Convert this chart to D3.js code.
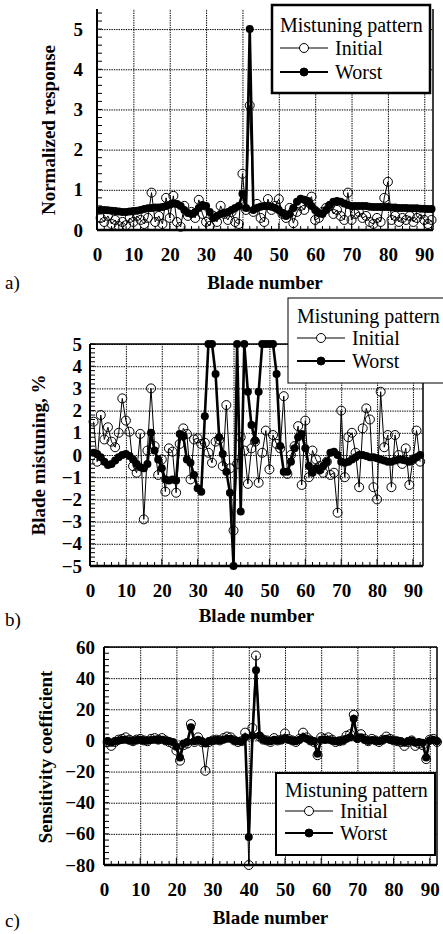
<!DOCTYPE html>
<html>
<head>
<meta charset="utf-8">
<script src="https://cdn.jsdelivr.net/npm/d3@7"></script>
<style>
  body { margin: 0; background: #fff; }
  svg { display: block; }
  text { font-family: "Liberation Serif", "Times New Roman", serif; fill: #000; }
</style>
</head>
<body>
<svg id="chart" width="443" height="934" font-family="'Liberation Serif', serif"></svg>
<script>
// Blade indices around the disk
const blades = d3.range(1, 93);

// a) Normalized forced response per blade
const responseInitial = [
  0.30, 0.20, 0.35, 0.15, 0.25, 0.10, 0.20, 0.12, 0.30, 0.20,
  0.35, 0.25, 0.15, 0.30, 0.93, 0.20, 0.35, 0.15, 0.80, 0.30,
  0.85, 0.20, 0.08, 0.60, 0.35, 0.45, 0.30, 0.75, 0.40, 0.20,
  0.10, 0.35, 0.20, 0.60, 0.40, 0.25, 0.45, 0.20, 0.15, 1.40,
  0.50, 3.10, 0.45, 0.65, 0.30, 0.20, 0.77, 0.50, 0.60, 0.77,
  0.40, 0.30, 0.55, 0.17, 0.45, 0.60, 0.50, 0.70, 0.83, 0.25,
  0.30, 0.45, 0.55, 0.60, 0.40, 0.50, 0.35, 0.25, 0.93, 0.25,
  0.40, 0.45, 0.30, 0.35, 0.20, 0.15, 0.30, 0.20, 0.80, 1.20,
  0.25, 0.35, 0.20, 0.30, 0.25, 0.35, 0.20, 0.30, 0.40, 0.25,
  0.15, 0.25
];
const responseWorst = [
  0.50, 0.50, 0.49, 0.48, 0.47, 0.46, 0.45, 0.45, 0.46, 0.47,
  0.48, 0.50, 0.52, 0.54, 0.55, 0.56, 0.56, 0.57, 0.60, 0.63,
  0.66, 0.65, 0.60, 0.50, 0.42, 0.40, 0.45, 0.55, 0.62, 0.60,
  0.45, 0.30, 0.35, 0.40, 0.42, 0.45, 0.50, 0.55, 0.60, 0.90,
  0.55, 5.00, 0.50, 0.55, 0.58, 0.60, 0.60, 0.58, 0.55, 0.50,
  0.42, 0.35, 0.40, 0.55, 0.70, 0.78, 0.75, 0.70, 0.60, 0.50,
  0.42, 0.40, 0.50, 0.62, 0.70, 0.72, 0.70, 0.66, 0.62, 0.60,
  0.60, 0.60, 0.60, 0.60, 0.58, 0.57, 0.57, 0.57, 0.57, 0.57,
  0.56, 0.56, 0.55, 0.55, 0.55, 0.54, 0.54, 0.54, 0.53, 0.53,
  0.52, 0.52
];

// b) Blade mistuning, percent
const mistuningInitial = [
  1.50, -0.30, 1.80, 0.70, 1.25, 0.60, 0.35, 1.00, 2.55, 1.55,
  1.05, -0.50, -0.80, 0.95, -2.90, 0.20, 3.00, 0.40, -0.90, -0.20,
  -1.65, 0.30, 0.15, -1.70, 0.50, 1.20, 0.95, -1.10, 0.70, 0.75,
  0.50, 0.55, 0.10, -0.35, 0.60, 0.70, -0.50, 2.25, -0.60, -3.40,
  -0.40, 0.80, 0.20, -1.30, 0.30, 0.60, -1.25, 0.10, 1.10, -0.65,
  0.90, 0.50, 0.30, 2.65, -0.85, 0.00, 0.40, 1.30, -1.35, 1.55,
  -1.00, 0.20, -0.20, -0.50, -0.80, -0.30, -0.90, -0.80, -2.60, 2.00,
  -1.00, 0.80, 1.00, 0.10, -1.45, 1.20, 2.10, 1.60, -1.45, -2.00,
  2.85, 0.35, 0.90, -1.45, 0.90, 0.00, -0.40, 0.30, -1.35, -0.20,
  1.10, -0.30
];
const mistuningWorst = [
  0.10, 0.05, -0.10, -0.30, -0.45, -0.40, -0.25, -0.10, 0.00, 0.05,
  -0.05, -0.20, -0.40, -0.55, -0.60, -0.40, 1.00, 0.20, -0.20, -0.60,
  -1.10, -1.15, -1.10, -1.15, 0.95, 0.85, -0.20, -0.35, -0.90, -1.50,
  -1.65, 1.75, 5.00, 5.00, 3.65, 0.80, 0.05, -0.75, -1.70, -5.00,
  5.00, -2.55, 5.00, 2.85, 1.35, 0.65, 2.85, 5.00, 5.00, 5.00,
  5.00, 3.65, 0.40, -0.75, -0.75, -0.30, 0.30, 0.80, 0.95, 0.30,
  -0.50, -0.80, -0.60, -0.70, -0.50, -0.30, 0.10, 0.15, 0.00, -0.30,
  -0.35, -0.30, -0.20, -0.10, 0.00, 0.00, -0.05, -0.10, -0.10, -0.15,
  -0.20, -0.25, -0.30, -0.30, -0.25, -0.20, -0.20, -0.25, -0.30, -0.20,
  -0.10, 0.00
];

// c) Sensitivity coefficients
const sensitivityInitial = [
  -1, -3.5, -1, 0.5, 1, 2, 0.5, -0.5, 0.5, 1,
  0, -0.5, 1, 1.5, 0.5, 1.5, 0, -1, -2, -6.5,
  -13, -3, -2, 10.5, -1, 2, -1, -19.5, -1, 0,
  0.5, 0, 1.5, 2.5, 2, 0, -1, -0.5, 5, -80,
  8, 54.5, 2.5, 0.5, 0, -1, 1.5, 0, 0.5, 4.5,
  1, 0, -1, 1, 5, 2, 0, -1, -9.5, 2,
  1, 2, 0.5, -1, -0.5, 0, 3, 4, 16.5, 1.5,
  4, 1, -0.5, 1, 0, -1, 0.5, 2.5, 1, 0,
  -0.5, -1, -3.5, -1, 0, -3.5, -2, -3, -12, 0.5,
  1, -1
];
const sensitivityWorst = [
  -0.5, -1.5, -0.5, 0, 0.5, 0.5, 0, -0.3, 0.2, 0.5,
  0, -0.2, 0.3, 0.5, 0.2, 0.5, 0, -0.5, -1, -4,
  -11, -2, -1, 8.5, -0.5, 0.5, -0.5, -2, -0.5, 0,
  0.3, 0, 0.5, 1, 1, 0, -0.5, -0.5, 2, -62,
  3, 45, 3, 0.5, 0, -0.5, 0.5, 0, 0.3, 1.5,
  0.5, 0, -0.5, 0.5, 2, 1, 0, -0.5, -8.5, 0.5,
  0.5, 0.5, 0, -0.5, -0.3, 0, 1, 2, 14, 1,
  2, 0.5, -0.3, 0.3, 0, -0.5, 0.3, 1, 0.5, 0,
  -0.3, -0.5, -1.5, -0.5, 0, -1.5, -1, -1.5, -11, 0,
  0.5, -0.5
];

// Axis ticks
const xTicks = d3.range(0, 91, 10);
const yTicksA = [0, 1, 2, 3, 4, 5];
const yTicksB = [-5, -4, -3, -2, -1, 0, 1, 2, 3, 4, 5];
const yTicksC = [-80, -60, -40, -20, 0, 20, 40, 60];

const svg = d3.select("#chart");

function drawPanel(cfg) {
  const g = svg.append("g");
  const x = d3.scaleLinear().domain([0, cfg.xMax]).range([cfg.left, cfg.right]);
  const y = d3.scaleLinear().domain(cfg.yDomain).range([cfg.bottom, cfg.top]);
  const h = cfg.bottom - cfg.top, w = cfg.right - cfg.left;

  // dotted grid
  const gx = g.append("g").attr("transform", `translate(0,${cfg.bottom})`)
    .call(d3.axisBottom(x).tickValues(xTicks.filter(t => t > 0)).tickSize(-h).tickFormat(""));
  const gy = g.append("g").attr("transform", `translate(${cfg.left},0)`)
    .call(d3.axisLeft(y).tickValues(cfg.yTicks).tickSize(-w).tickFormat(""));
  [gx, gy].forEach(s => {
    s.select(".domain").remove();
    s.selectAll("line").attr("stroke", "#000").attr("stroke-width", 1).attr("stroke-dasharray", "1.4,1");
  });

  // inward minor ticks
  const minorX = d3.range(0, cfg.xMax, 2);
  g.append("g").selectAll("line").data(minorX).join("line")
    .attr("x1", d => x(d)).attr("x2", d => x(d))
    .attr("y1", cfg.bottom).attr("y2", d => cfg.bottom - (d % 10 === 0 ? 7 : 4))
    .attr("stroke", "#000").attr("stroke-width", 1);
  const minorY = d3.range(cfg.yDomain[0], cfg.yDomain[1] + 1e-9, cfg.yMinor);
  g.append("g").selectAll("line").data(minorY).join("line")
    .attr("x1", cfg.left).attr("x2", cfg.left + 5)
    .attr("y1", d => y(d)).attr("y2", d => y(d))
    .attr("stroke", "#000").attr("stroke-width", 1);

  // tick labels
  const lx = g.append("g").attr("transform", `translate(0,${cfg.bottom})`)
    .call(d3.axisBottom(x).tickValues(xTicks).tickSize(0).tickPadding(cfg.xPad).tickFormat(d3.format("d")));
  const ly = g.append("g").attr("transform", `translate(${cfg.left},0)`)
    .call(d3.axisLeft(y).tickValues(cfg.yTicks).tickSize(0).tickPadding(cfg.yPad).tickFormat(d3.format("d")));
  [lx, ly].forEach(s => {
    s.select(".domain").remove();
    s.attr("font-family", null);
    s.selectAll("text").attr("font-size", 19).attr("font-weight", "bold").attr("fill", "#000");
  });

  // frame
  const frame = g.append("g").attr("stroke", "#000").attr("fill", "none");
  frame.append("line").attr("x1", cfg.left).attr("x2", cfg.left).attr("y1", cfg.top).attr("y2", cfg.bottom).attr("stroke-width", 2);
  frame.append("line").attr("x1", cfg.left).attr("x2", cfg.right).attr("y1", cfg.bottom).attr("y2", cfg.bottom).attr("stroke-width", 2.5);
  frame.append("line").attr("x1", cfg.right).attr("x2", cfg.right).attr("y1", cfg.top).attr("y2", cfg.bottom).attr("stroke-width", 1.5);
  if (cfg.topLine) frame.append("line").attr("x1", cfg.left).attr("x2", cfg.right).attr("y1", cfg.top).attr("y2", cfg.top).attr("stroke-width", 1.5);

  // series: worst pattern (filled), then initial pattern (open)
  const line = d3.line().x((d, i) => x(blades[i])).y(d => y(d));
  g.append("path").datum(cfg.worst).attr("d", line)
    .attr("fill", "none").attr("stroke", "#000").attr("stroke-width", 2.6).attr("stroke-linejoin", "round");
  g.append("g").selectAll("circle").data(cfg.worst).join("circle")
    .attr("cx", (d, i) => x(blades[i])).attr("cy", d => y(d)).attr("r", 4).attr("fill", "#000");
  g.append("path").datum(cfg.initial).attr("d", line)
    .attr("fill", "none").attr("stroke", "#000").attr("stroke-width", 1);
  g.append("g").selectAll("circle").data(cfg.initial).join("circle")
    .attr("cx", (d, i) => x(blades[i])).attr("cy", d => y(d)).attr("r", 4.5)
    .attr("fill", "none").attr("stroke", "#000").attr("stroke-width", 1);

  // axis titles
  g.append("text").attr("x", (cfg.left + cfg.right) / 2).attr("y", cfg.xTitleY)
    .attr("text-anchor", "middle").attr("font-size", 19).attr("font-weight", "bold").text("Blade number");
  g.append("text").attr("transform", `translate(${cfg.yTitleX},${cfg.yTitleMid}) rotate(-90)`)
    .attr("text-anchor", "middle").attr("dominant-baseline", "central")
    .attr("font-size", 19).attr("font-weight", "bold").text(cfg.yTitle);
  g.append("text").attr("x", 5).attr("y", cfg.letterY).attr("font-size", 19).text(cfg.letter);

  // legend
  const L = cfg.legend;
  const lg = g.append("g");
  lg.append("rect").attr("x", L.x).attr("y", L.y).attr("width", L.w).attr("height", L.h)
    .attr("fill", "#fff").attr("stroke", "#000").attr("stroke-width", L.sw);
  lg.append("text").attr("x", L.x + L.pad).attr("y", L.y + L.titleDy).attr("font-size", 20).text("Mistuning pattern");
  const rows = [
    { name: "Initial", open: true, dy: L.row1 },
    { name: "Worst", open: false, dy: L.row2 }
  ];
  rows.forEach(r => {
    const ry = L.y + r.dy;
    lg.append("line").attr("x1", L.x + L.pad).attr("x2", L.x + L.pad + 48).attr("y1", ry).attr("y2", ry)
      .attr("stroke", "#000").attr("stroke-width", r.open ? 1.2 : 2);
    lg.append("circle").attr("cx", L.x + L.pad + 24).attr("cy", ry).attr("r", r.open ? 4.5 : 4)
      .attr("fill", r.open ? "#fff" : "#000").attr("stroke", "#000").attr("stroke-width", 1);
    lg.append("text").attr("x", L.x + L.pad + 55).attr("y", ry).attr("dy", "0.35em")
      .attr("font-size", 20).text(r.name);
  });
}

drawPanel({
  left: 97, right: 433, top: 9, bottom: 230, xMax: 92.4,
  yDomain: [0, 5.5], yTicks: yTicksA, yMinor: 0.2, topLine: false,
  xPad: 18, yPad: 14,
  initial: responseInitial, worst: responseWorst,
  xTitleY: 289, yTitleX: 48, yTitleMid: 130, yTitle: "Normalized response",
  letter: "a)", letterY: 289,
  legend: { x: 272, y: 5, w: 158, h: 88, sw: 2.5, pad: 8, titleDy: 27, row1: 43, row2: 67 }
});

drawPanel({
  left: 90, right: 423, top: 344, bottom: 566, xMax: 92.8,
  yDomain: [-5, 5], yTicks: yTicksB, yMinor: 0.2, topLine: true,
  xPad: 18, yPad: 8,
  initial: mistuningInitial, worst: mistuningWorst,
  xTitleY: 622, yTitleX: 38, yTitleMid: 455, yTitle: "Blade mistuning, %",
  letter: "b)", letterY: 626,
  legend: { x: 288, y: 298, w: 160, h: 85, sw: 1, pad: 9, titleDy: 25, row1: 40, row2: 63 }
});

drawPanel({
  left: 104, right: 437, top: 647, bottom: 865, xMax: 92,
  yDomain: [-80, 60], yTicks: yTicksC, yMinor: 4, topLine: true,
  xPad: 18, yPad: 9,
  initial: sensitivityInitial, worst: sensitivityWorst,
  xTitleY: 924, yTitleX: 45, yTitleMid: 757, yTitle: "Sensitivity coefficient",
  letter: "c)", letterY: 927,
  legend: { x: 276, y: 773, w: 159, h: 82, sw: 2, pad: 9, titleDy: 24, row1: 38, row2: 60 }
});
</script>
</body>
</html>
